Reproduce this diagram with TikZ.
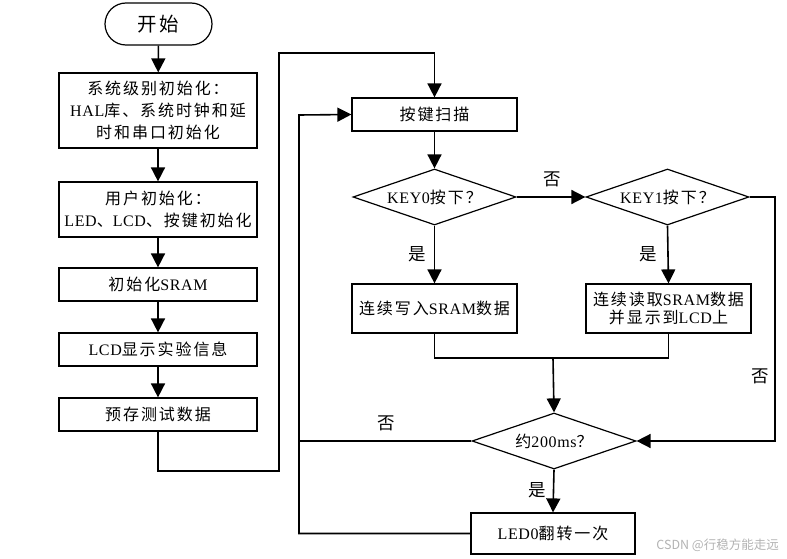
\documentclass[tikz,border=0pt]{standalone}
\usepackage{fontspec}
\setmainfont{Noto Sans CJK SC}[LetterSpace=12]
\newfontfamily\lat{Liberation Serif}[LetterSpace=4]
\newfontfamily\wmfont{Noto Sans CJK SC}
\usetikzlibrary{arrows.meta,shapes.geometric,calc}
\begin{document}
\begin{tikzpicture}[x=1pt,y=-1pt,
  every node/.style={font=\fontsize{16}{22}\selectfont, inner sep=2pt},
  proc/.style={draw, line width=1.2pt, rectangle, align=center},
  term/.style={draw, line width=1.2pt, rectangle, rounded corners=21pt},
  dec/.style={draw, line width=1.2pt, diamond, aspect=2.9, inner sep=0pt},
  conn/.style={line width=1.6pt},
  arr/.style={conn, -{Triangle[width=14pt,length=14pt]}},
  lbl/.style={font=\fontsize{17.5}{18}\selectfont},
]
\useasboundingbox (0,0) rectangle (787,559);
% left column
\node[term, minimum width=107pt, minimum height=42pt, font=\fontsize{19.5}{22}\selectfont] (start) at (158.5,24) {开始};
\node[proc, minimum width=198pt, minimum height=75pt] (b1) at (158,110.5) {系统级别初始化：\\{\lat HAL}库、系统时钟和延\\时和串口初始化};
\node[proc, minimum width=198pt, minimum height=55pt] (b2) at (158,209.5) {用户初始化：\\{\lat LED}、{\lat LCD}、按键初始化};
\node[proc, minimum width=198pt, minimum height=33pt] (b3) at (158,284.5) {初始化{\lat SRAM}};
\node[proc, minimum width=198pt, minimum height=33pt] (b4) at (158,349.5) {{\lat LCD}显示实验信息};
\node[proc, minimum width=198pt, minimum height=33pt] (b5) at (158,414.5) {预存测试数据};
% right part
\node[proc, minimum width=165pt, minimum height=33pt] (scan) at (434.5,114.5) {按键扫描};
\node[dec, minimum width=163pt, minimum height=56pt] (k0) at (434.5,197) {{\lat KEY0}按下\kern2pt？};
\node[dec, minimum width=163pt, minimum height=56pt] (k1) at (667.5,197) {{\lat KEY1}按下\kern2pt？};
\node[proc, minimum width=165pt, minimum height=49pt] (w) at (434.5,308.5) {连续写入{\lat SRAM}数据};
\node[proc, minimum width=165pt, minimum height=49pt] (r) at (668.5,308.5) {连续读取{\lat SRAM}数据\\[-4pt]并显示到{\lat LCD}上};
\node[dec, minimum width=164pt, minimum height=56pt] (t) at (554,441) {约{\lat 200ms}？};
\node[proc, minimum width=164pt, minimum height=41pt] (led) at (553,533.5) {{\lat LED0}翻转一次};
% coordinates
\coordinate (c1) at (158,471);
\coordinate (c2) at (279,471);
\coordinate (c3) at (279,53);
\coordinate (c4) at (434.5,53);
\coordinate (m) at (553,358);
\coordinate (rr) at (775,197);
\coordinate (rb) at (775,441);
\coordinate (lb) at (299,533.5);
\coordinate (lt) at (299,115);
\coordinate (lm) at (299,441);
% connectors
\draw[arr] (start) -- (b1);
\draw[arr] (b1) -- (b2);
\draw[arr] (b2) -- (b3);
\draw[arr] (b3) -- (b4);
\draw[arr] (b4) -- (b5);
\draw[arr] (b5.south) -- (c1) -- (c2) -- (c3) -- (c4) -- (scan.north);
\draw[arr] (scan) -- (k0);
\draw[arr] (k0.east) -- (k1.west);
\draw[arr] (k0.south) -- (w.north);
\draw[arr] (k1.south) -- (r.north);
\draw[conn] (w.south) |- (m);
\draw[conn] (r.south) |- (m);
\draw[arr] (m) -- (t.north);
\draw[arr] (k1.east) -- (rr) -- (rb) -- (t.east);
\draw[arr] (t.south) -- (led.north);
\draw[arr] (led.west) -- (lb) -- (lt) -- (scan.west);
\draw[conn] (t.west) -- (lm);
% labels
\node[lbl] (n1) at (552,179) {否};
\node[lbl] (y1) at (417,254) {是};
\node[lbl] (y2) at (648,254) {是};
\node[lbl] (n2) at (760,376) {否};
\node[lbl] (n3) at (386,423) {否};
\node[lbl] (y3) at (537,490) {是};
\node[font=\wmfont\fontsize{12.5}{14}\selectfont, text=black!30, anchor=east] (wm) at (781,545) {CSDN @行稳方能走远};
\end{tikzpicture}
\end{document}
